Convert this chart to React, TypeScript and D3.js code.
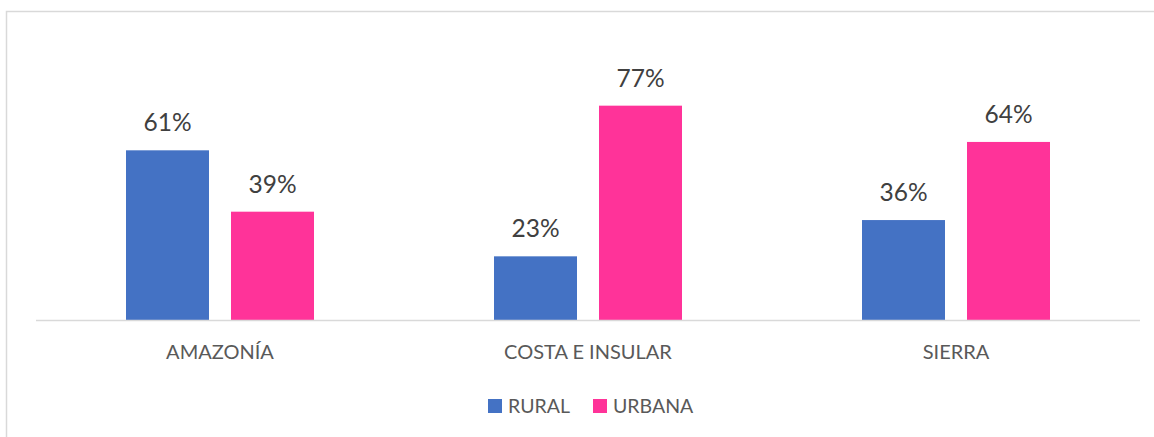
import React from "react";
import * as d3 from "d3";

const categories = ["AMAZONÍA", "COSTA E INSULAR", "SIERRA"];
const seriesNames = ["RURAL", "URBANA"];
const rural = [61, 23, 36];
const urbana = [39, 77, 64];
const colors = ["#4472C4", "#FF3399"];

const W = 1154;
const H = 437;

export default function App() {
  const x0 = d3.scaleBand<string>().domain(categories).range([36, 1140]).paddingInner(0).paddingOuter(0);
  const x1 = d3.scaleBand<string>().domain(seriesNames).range([0, 188]).paddingInner(22 / 105).paddingOuter(0);
  const y = d3.scaleLinear().domain([0, 100]).range([320.5, 320.5 - 279]);
  const series = [rural, urbana];
  const font = "Lato, 'Open Sans', sans-serif";

  return (
    <svg width={W} height={H} style={{ position: "absolute", left: 0, top: 0, background: "#fff" }}>
      <rect x={0} y={0} width={W} height={H} fill="#fff" />
      <rect x={6.5} y={11.5} width={1200} height={500} fill="none" stroke="#d9d9d9" strokeWidth={1.5} />
      {categories.map((c, ci) => {
        const cx = (x0(c) as number) + x0.bandwidth() / 2;
        const gx = cx - 94;
        return (
          <g key={c}>
            {series.map((vals, si) => {
              const bx = gx + (x1(seriesNames[si]) as number);
              const bw = x1.bandwidth();
              const v = vals[ci];
              return (
                <g key={si}>
                  <rect x={bx} y={y(v)} width={bw} height={y(0) - y(v)} fill={colors[si]} />
                  <text x={bx + bw / 2} y={y(v) - 19} textAnchor="middle" fontFamily={font} fontSize={24.5} fill="#404040">
                    {v}%
                  </text>
                </g>
              );
            })}
            <text x={cx} y={359} textAnchor="middle" fontFamily={font} fontSize={20} fill="#595959">
              {c}
            </text>
          </g>
        );
      })}
      <line x1={36} x2={1140} y1={320.5} y2={320.5} stroke="#d9d9d9" strokeWidth={1.5} />
      {seriesNames.map((s, i) => {
        const lx = [488, 593][i];
        return (
          <g key={s}>
            <rect x={lx} y={399} width={14} height={14} fill={colors[i]} />
            <text x={lx + 20} y={413} fontFamily={font} fontSize={19.5} fill="#595959">
              {s}
            </text>
          </g>
        );
      })}
    </svg>
  );
}
